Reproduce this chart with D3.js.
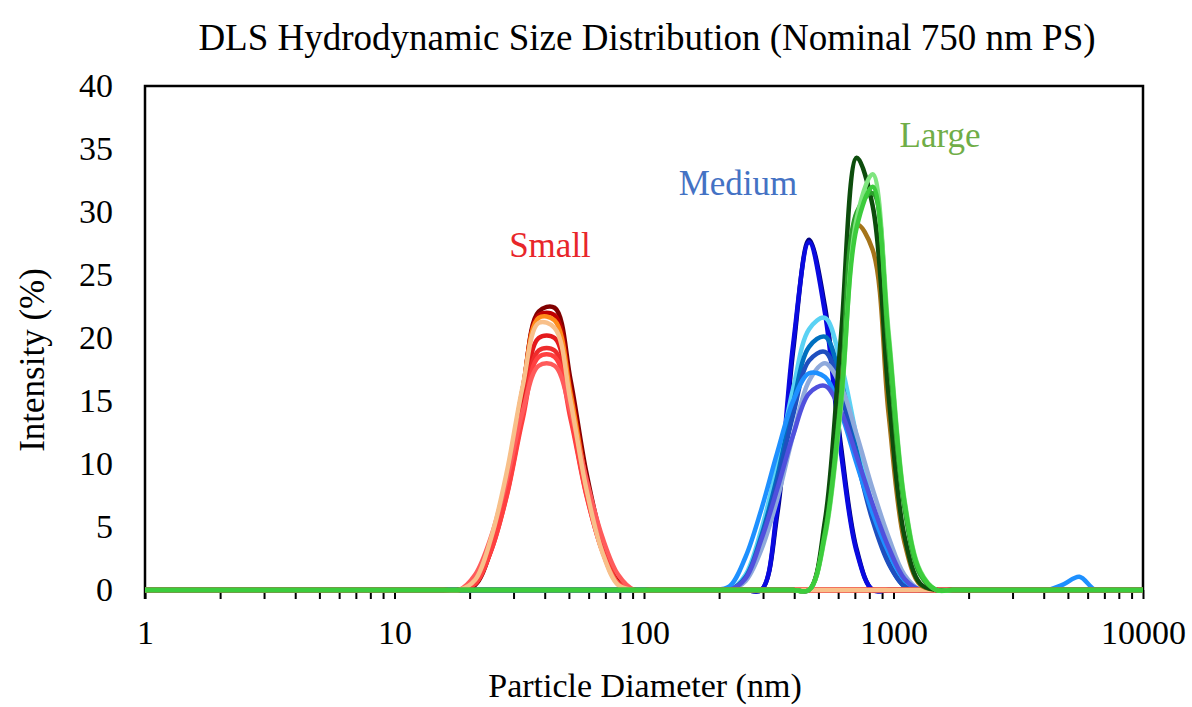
<!DOCTYPE html>
<html>
<head>
<meta charset="utf-8">
<script src="https://cdn.jsdelivr.net/npm/d3@7"></script>
<style>
  body { margin: 0; background: #fff; }
  text { font-family: "Liberation Serif", "Times New Roman", serif; }
</style>
</head>
<body>
<div id="chart"></div>
<script>
var width = 1192;
var height = 707;

// Malvern size bins (nm)
var sizes = [0.9649, 1.117, 1.294, 1.499, 1.736, 2.010, 2.328, 2.696, 3.122, 3.615,
  4.187, 4.849, 5.615, 6.503, 7.531, 8.721, 10.10, 11.70, 13.54, 15.69,
  18.17, 21.04, 24.36, 28.21, 32.67, 37.84, 43.82, 50.75, 58.77, 68.06,
  78.82, 91.28, 105.7, 122.4, 141.8, 164.2, 190.1, 220.2, 255.0, 295.3,
  342.0, 396.1, 458.7, 531.2, 615.1, 712.4, 825.0, 955.4, 1106, 1281,
  1484, 1718, 1990, 2305, 2669, 3091, 3580, 4145, 4801, 5560,
  6439, 7456, 8635, 10000];

var xMajor = [1, 10, 100, 1000, 10000];
var yTicks = [0, 5, 10, 15, 20, 25, 30, 35, 40];

// Small group: values start at bin 20 (18.17 nm)
var smallFirstBin = 20;
var smallColors = ["#800000", "#c00000", "#ff8c1a", "#e41a1c", "#ee2c2c", "#ff4040", "#ff5b5b", "#f8c08a"];
var smallValues = [
  [0, 0.4, 3.2, 8.6, 15.8, 22.1, 22.4, 16.7, 9.3, 3.9, 0.7, 0],
  [0, 0.5, 3.5, 8.8, 16.0, 21.8, 21.8, 16.0, 8.8, 3.6, 0.6, 0],
  [0, 0.6, 3.7, 9.0, 16.0, 21.6, 21.4, 15.6, 8.5, 3.4, 0.5, 0],
  [0, 0.5, 3.3, 8.0, 14.6, 20.0, 20.0, 14.6, 8.0, 3.3, 0.5, 0],
  [0, 0.5, 3.1, 7.6, 13.9, 19.0, 19.0, 13.9, 7.6, 3.1, 0.5, 0],
  [0, 0.5, 3.1, 7.5, 13.6, 18.5, 18.5, 13.6, 7.5, 3.1, 0.5, 0],
  [0, 1.2, 4.2, 8.8, 14.2, 17.8, 17.8, 14.2, 8.8, 4.2, 1.2, 0],
  [0, 0.8, 4.1, 9.4, 16.2, 21.2, 20.8, 15.0, 8.0, 3.0, 0.4, 0]
];

// Medium group: values start at bin 36 (190.1 nm)
var mediumFirstBin = 36;
var mediumColors = ["#00007f", "#0a0ae0", "#5ad2f4", "#0070c0", "#1f4fbf", "#8faadc", "#1e90ff", "#5050dd"];
var mediumValues = [
  [0, 0, 0, 0, 6.0, 19.0, 27.8, 22.5, 11.5, 3.2, 0, 0, 0, 0],
  [0, 0, 0, 0, 6.5, 19.5, 27.6, 22.0, 11.0, 3.0, 0, 0, 0, 0],
  [0, 0, 1.2, 4.8, 9.9, 16.0, 20.7, 21.6, 18.0, 12.1, 6.6, 2.8, 0.6, 0],
  [0, 0, 1.0, 4.3, 9.0, 14.8, 19.3, 20.1, 16.6, 11.0, 5.8, 2.2, 0.3, 0],
  [0, 0, 0.9, 4.0, 8.5, 13.9, 18.2, 18.9, 15.6, 10.4, 5.5, 2.1, 0.3, 0],
  [0, 0, 0.7, 3.2, 7.2, 12.3, 16.6, 18.0, 16.2, 12.3, 8.0, 4.2, 1.2, 0],
  [0, 0.3, 2.6, 6.4, 10.9, 15.0, 17.2, 16.9, 14.1, 10.0, 6.1, 3.0, 0.8, 0,
    0, 0, 0, 0, 0, 0, 0, 0, 0.45, 1.05, 0],
  [0, 0, 0.9, 4.0, 8.0, 12.3, 15.6, 16.2, 14.2, 10.6, 6.8, 3.4, 0.9, 0]
];

// Large group: values start at bin 42 (458.7 nm)
var largeFirstBin = 42;
var largeColors = ["#a5741a", "#0d4d0d", "#2ca02c", "#7fe57f", "#3ccc3c"];
var largeValues = [
  [0, 4.8, 16.0, 29.0, 27.0, 14.0, 3.8, 0.4],
  [0, 5.5, 20.0, 34.3, 30.5, 15.5, 4.3, 0.5],
  [0, 4.6, 15.3, 30.0, 31.5, 19.0, 6.5, 1.2],
  [0, 4.2, 14.5, 29.5, 33.0, 20.5, 7.2, 1.5],
  [0, 4.4, 14.9, 28.8, 32.0, 20.0, 7.0, 1.4]
];

var plot = { left: 145, right: 1143, top: 86, bottom: 590 };

var xScale = d3.scaleLog().domain([1, 10000]).range([plot.left, plot.right]);
var yScale = d3.scaleLinear().domain([0, 40]).range([plot.bottom, plot.top]);

var svg = d3.select("#chart").append("svg")
  .attr("width", width)
  .attr("height", height);

svg.append("defs").append("clipPath").attr("id", "plot-clip")
  .append("rect")
  .attr("x", plot.left).attr("y", plot.top - 10)
  .attr("width", plot.right - plot.left).attr("height", plot.bottom - plot.top + 20);

// x axis minor + major ticks
var minorTicks = [];
for (var dec = 1; dec < 10000; dec *= 10) {
  for (var k = 1; k < 10; k++) minorTicks.push(dec * k);
}
minorTicks.push(10000);

svg.append("g")
  .attr("transform", "translate(0," + plot.bottom + ")")
  .call(d3.axisBottom(xScale).tickValues(minorTicks).tickSize(9).tickFormat(""))
  .call(function(g) {
    g.select(".domain").remove();
    g.selectAll(".tick line").attr("stroke", "#000").attr("stroke-width", 2);
  });

svg.append("g")
  .attr("transform", "translate(0," + plot.bottom + ")")
  .call(d3.axisBottom(xScale).tickValues(xMajor).tickSize(0).tickPadding(30).tickFormat(d3.format("d")))
  .call(function(g) {
    g.select(".domain").remove();
    g.selectAll("text").attr("fill", "#000").style("font-size", "34px")
      .style("font-family", "'Liberation Serif', serif");
  });

svg.append("g")
  .attr("transform", "translate(" + (plot.left - 32) + ",0)")
  .call(d3.axisLeft(yScale).tickValues(yTicks).tickSize(0).tickPadding(0))
  .call(function(g) {
    g.select(".domain").remove();
    g.selectAll("text").attr("fill", "#000").style("font-size", "34px")
      .style("font-family", "'Liberation Serif', serif");
  });

// frame
svg.append("path")
  .attr("d", "M" + plot.left + "," + (plot.bottom + 9) + "V" + plot.top + "H" + plot.right + "V" + plot.bottom)
  .attr("fill", "none")
  .attr("stroke", "#000")
  .attr("stroke-width", 2.5);

var line = d3.line()
  .x(function(d) { return xScale(d.size); })
  .y(function(d) { return yScale(d.value); })
  .curve(d3.curveCatmullRom.alpha(0.5));

function toPoints(values, firstBin) {
  return sizes.map(function(s, i) {
    var v = values[i - firstBin];
    return { size: s, value: v === undefined ? 0 : v };
  });
}

var curves = svg.append("g").attr("clip-path", "url(#plot-clip)");

function drawGroup(values, colors, firstBin) {
  values.forEach(function(vals, i) {
    curves.append("path")
      .datum(toPoints(vals, firstBin))
      .attr("d", line)
      .attr("fill", "none")
      .attr("stroke", colors[i])
      .attr("stroke-width", 4.5)
      .attr("stroke-linejoin", "round")
      .attr("stroke-linecap", "round");
  });
}

drawGroup(mediumValues, mediumColors, mediumFirstBin);
drawGroup(smallValues, smallColors, smallFirstBin);
drawGroup(largeValues, largeColors, largeFirstBin);

// labels
svg.append("text")
  .attr("x", 647).attr("y", 50)
  .attr("text-anchor", "middle")
  .style("font-size", "37px")
  .text("DLS Hydrodynamic Size Distribution (Nominal 750 nm PS)");

svg.append("text")
  .attr("x", 645).attr("y", 697)
  .attr("text-anchor", "middle")
  .style("font-size", "34px")
  .text("Particle Diameter (nm)");

svg.append("text")
  .attr("transform", "translate(44,360) rotate(-90)")
  .attr("text-anchor", "middle")
  .style("font-size", "35px")
  .text("Intensity (%)");

svg.append("text")
  .attr("x", 550).attr("y", 257)
  .attr("text-anchor", "middle")
  .attr("fill", "#e8262a")
  .style("font-size", "35px")
  .text("Small");

svg.append("text")
  .attr("x", 738).attr("y", 195)
  .attr("text-anchor", "middle")
  .attr("fill", "#4472c4")
  .style("font-size", "35px")
  .text("Medium");

svg.append("text")
  .attr("x", 940).attr("y", 147)
  .attr("text-anchor", "middle")
  .attr("fill", "#70ad47")
  .style("font-size", "35px")
  .text("Large");
</script>
</body>
</html>
